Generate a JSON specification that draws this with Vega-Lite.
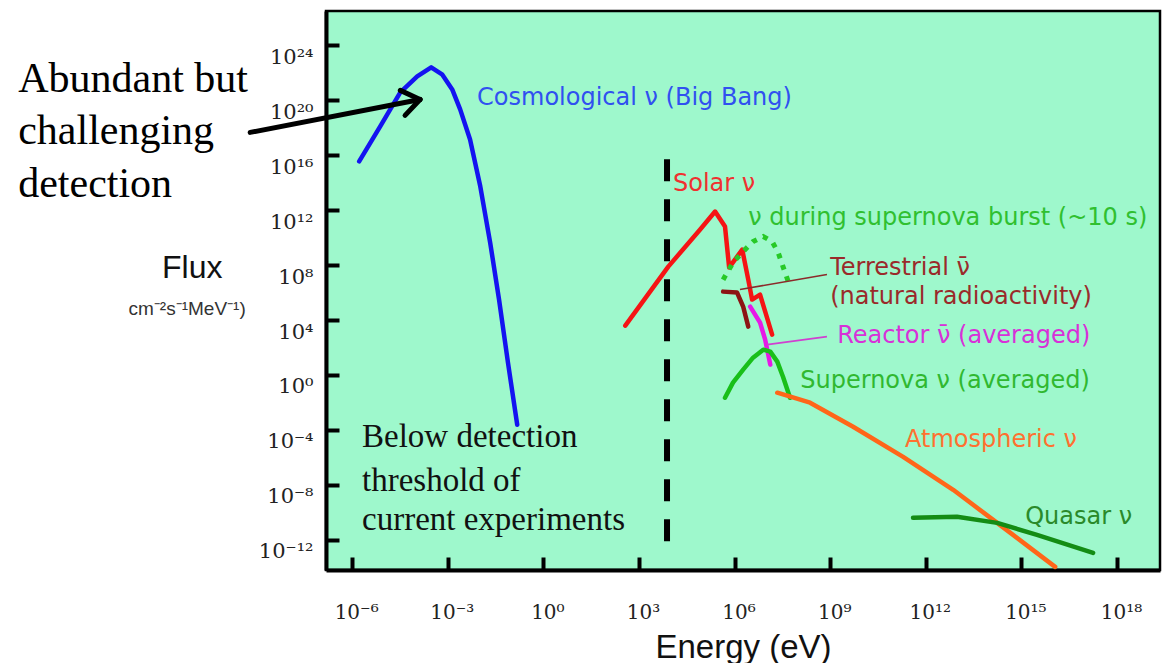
{
  "$schema": "https://vega.github.io/schema/vega-lite/v6.json",
  "width": 834,
  "height": 559,
  "autosize": "none",
  "padding": {"left": 326, "top": 11, "right": 5, "bottom": 93},
  "background": "white",
  "config": {
    "view": {"fill": "#9ef8cc", "stroke": "#000000", "strokeWidth": 2.5},
    "axis": {
      "grid": false,
      "domainColor": "#000000",
      "domainWidth": 4,
      "tickColor": "#000000",
      "tickWidth": 4,
      "tickSize": -13,
      "labelFont": "DejaVu Serif",
      "labelColor": "#222222"
    }
  },
  "datasets": {
    "spectra": [
      {"series": "Cosmological", "energy": 1.66e-6, "flux": 3.55e15},
      {"series": "Cosmological", "energy": 7.59e-6, "flux": 1.26e18},
      {"series": "Cosmological", "energy": 3.24e-5, "flux": 3.72e20},
      {"series": "Cosmological", "energy": 1.10e-4, "flux": 5.5e21},
      {"series": "Cosmological", "energy": 3.02e-4, "flux": 2.51e22},
      {"series": "Cosmological", "energy": 6.61e-4, "flux": 7.76e21},
      {"series": "Cosmological", "energy": 1.38e-3, "flux": 6.17e20},
      {"series": "Cosmological", "energy": 2.45e-3, "flux": 2.19e19},
      {"series": "Cosmological", "energy": 5.01e-3, "flux": 1.41e17},
      {"series": "Cosmological", "energy": 1.05e-2, "flux": 5.25e13},
      {"series": "Cosmological", "energy": 2.14e-2, "flux": 4.37e9},
      {"series": "Cosmological", "energy": 4.07e-2, "flux": 3.09e5},
      {"series": "Cosmological", "energy": 7.76e-2, "flux": 7.76},
      {"series": "Cosmological", "energy": 0.151, "flux": 2.4e-4},
      {"series": "Solar", "energy": 372, "flux": 3890},
      {"series": "Solar", "energy": 8320, "flux": 7.76e7},
      {"series": "Solar", "energy": 8.32e4, "flux": 3.89e10},
      {"series": "Solar", "energy": 2.45e5, "flux": 7.94e11},
      {"series": "Solar", "energy": 5.01e5, "flux": 6.46e10},
      {"series": "Solar", "energy": 6.76e5, "flux": 6.61e7},
      {"series": "Solar", "energy": 1.74e6, "flux": 1.35e9},
      {"series": "Solar", "energy": 2.69e6, "flux": 8.71e6},
      {"series": "Solar", "energy": 3.55e6, "flux": 3.09e5},
      {"series": "Solar", "energy": 6.31e6, "flux": 7.08e5},
      {"series": "Solar", "energy": 1.51e7, "flux": 871},
      {"series": "Terrestrial", "energy": 4.37e5, "flux": 1.17e6},
      {"series": "Terrestrial", "energy": 1.2e6, "flux": 1.0e6},
      {"series": "Terrestrial", "energy": 1.86e6, "flux": 9.55e4},
      {"series": "Terrestrial", "energy": 2.69e6, "flux": 3310},
      {"series": "Reactor", "energy": 3.09e6, "flux": 9.55e4},
      {"series": "Reactor", "energy": 6.31e6, "flux": 6460},
      {"series": "Reactor", "energy": 9.12e6, "flux": 372},
      {"series": "Reactor", "energy": 1.32e7, "flux": 5.62},
      {"series": "Supernova", "energy": 5.01e5, "flux": 0.0219},
      {"series": "Supernova", "energy": 8.91e5, "flux": 0.275},
      {"series": "Supernova", "energy": 1.86e6, "flux": 2.45},
      {"series": "Supernova", "energy": 3.80e6, "flux": 18.2},
      {"series": "Supernova", "energy": 7.94e6, "flux": 69.2},
      {"series": "Supernova", "energy": 1.32e7, "flux": 50.1},
      {"series": "Supernova", "energy": 2.19e7, "flux": 9.33},
      {"series": "Supernova", "energy": 3.31e7, "flux": 0.741},
      {"series": "Supernova", "energy": 5.5e7, "flux": 0.0219},
      {"series": "Atmospheric", "energy": 2.19e7, "flux": 0.0513},
      {"series": "Atmospheric", "energy": 2.34e8, "flux": 9.55e-3},
      {"series": "Atmospheric", "energy": 5.25e9, "flux": 1.70e-4},
      {"series": "Atmospheric", "energy": 1.95e11, "flux": 1.10e-6},
      {"series": "Atmospheric", "energy": 7.24e12, "flux": 4.37e-9},
      {"series": "Atmospheric", "energy": 1.74e14, "flux": 1.70e-11},
      {"series": "Atmospheric", "energy": 1.15e16, "flux": 1.07e-14},
      {"series": "Quasar", "energy": 3.98e11, "flux": 3.98e-11},
      {"series": "Quasar", "energy": 9.55e12, "flux": 4.68e-11},
      {"series": "Quasar", "energy": 1.74e14, "flux": 1.70e-11},
      {"series": "Quasar", "energy": 3.09e15, "flux": 2.29e-12},
      {"series": "Quasar", "energy": 1.78e17, "flux": 1.12e-13}
    ],
    "burst": [
      {"energy": 4.37e5, "flux": 8.71e6},
      {"energy": 8.91e5, "flux": 1.51e8},
      {"energy": 1.86e6, "flux": 9.77e8},
      {"energy": 3.80e6, "flux": 5.13e9},
      {"energy": 7.94e6, "flux": 1.2e10},
      {"energy": 1.51e7, "flux": 5.13e9},
      {"energy": 2.34e7, "flux": 8.13e8},
      {"energy": 3.31e7, "flux": 7.76e7},
      {"energy": 5.5e7, "flux": 2.69e6}
    ],
    "threshold": [
      {"energy": 7590, "flux": 5.01e15, "flux_end": 7.94e-14}
    ],
    "leaders": [
      {"part": "Terrestrial", "energy": 1.48e6, "flux": 1.66e6, "energy_end": 7.94e8, "flux_end": 2.04e7},
      {"part": "Reactor", "energy": 1.05e7, "flux": 162, "energy_end": 7.94e8, "flux_end": 617}
    ],
    "arrow": [
      {"part": "shaft", "energy": 6.31e-10, "flux": 4.57e17, "energy_end": 1.35e-4, "flux_end": 1.15e20},
      {"part": "head upper", "energy": 3.24e-5, "flux": 5.25e20, "energy_end": 1.35e-4, "flux_end": 1.15e20},
      {"part": "head lower", "energy": 4.57e-5, "flux": 7.94e18, "energy_end": 1.35e-4, "flux_end": 1.15e20}
    ],
    "labels": [
      {"text": "Cosmological ν (Big Bang)", "tag": "Cosmological", "energy": 8.32e-3, "flux": 1.58e20},
      {"text": "Solar ν", "tag": "Solar", "energy": 1.17e4, "flux": 7.41e13},
      {"text": "ν during supernova burst (~10 s)", "tag": "Burst", "energy": 2.69e6, "flux": 2.88e11},
      {"text": "Terrestrial ν̄", "tag": "Terrestrial", "energy": 1.0e9, "flux": 6.61e7},
      {"text": "(natural radioactivity)", "tag": "Terrestrial", "energy": 1.0e9, "flux": 5.13e5},
      {"text": "Reactor ν̄ (averaged)", "tag": "Reactor", "energy": 1.66e9, "flux": 724},
      {"text": "Supernova ν (averaged)", "tag": "Supernova", "energy": 1.15e8, "flux": 0.38},
      {"text": "Atmospheric ν", "tag": "Atmospheric", "energy": 2.24e11, "flux": 1.91e-5},
      {"text": "Quasar ν", "tag": "Quasar", "energy": 1.32e15, "flux": 4.68e-11}
    ],
    "abundant": [
      {"text": "Abundant but", "energy": 3.31e-17, "flux": 3.72e20},
      {"text": "challenging", "energy": 3.31e-17, "flux": 6.03e16},
      {"text": "detection", "energy": 3.31e-17, "flux": 9.77e12}
    ],
    "below": [
      {"text": "Below detection", "energy": 2.04e-6, "flux": 5.89e-6},
      {"text": "threshold of", "energy": 2.04e-6, "flux": 3.72e-9},
      {"text": "current experiments", "energy": 2.04e-6, "flux": 5.25e-12}
    ],
    "fluxTitle": [
      {"text": "Flux", "energy": 9.55e-12, "flux": 1.23e7}
    ],
    "fluxUnits": [
      {"text": "cm⁻²s⁻¹MeV⁻¹)", "energy": 6.61e-12, "flux": 2.45e4}
    ]
  },
  "resolve": {"scale": {"color": "independent"}},
  "encoding": {
    "x": {
      "field": "energy", "type": "quantitative",
      "scale": {"type": "log", "domain": [1.51e-7, 2.24e19], "nice": false},
      "axis": {
        "values": [1e-6, 1e-3, 1, 1e3, 1e6, 1e9, 1e12, 1e15, 1e18],
        "labelExpr": "'10' + (round(log(datum.value)/LN10) < 0 ? '⁻' : '') + (abs(round(log(datum.value)/LN10)) >= 10 ? ['⁰','¹','²','³','⁴','⁵','⁶','⁷','⁸','⁹'][floor(abs(round(log(datum.value)/LN10))/10)] : '') + ['⁰','¹','²','³','⁴','⁵','⁶','⁷','⁸','⁹'][abs(round(log(datum.value)/LN10)) % 10]",
        "labelFontSize": 20,
        "labelBaseline": "alphabetic",
        "labelPadding": 61,
        "labelOffset": 4,
        "labelFlush": false,
        "labelOverlap": false,
        "title": "Energy (eV)",
        "titleFont": "Liberation Sans",
        "titleFontSize": 33,
        "titleFontWeight": "normal",
        "titleColor": "#111111",
        "titleBaseline": "alphabetic",
        "titleY": 87
      }
    },
    "y": {
      "field": "flux", "type": "quantitative",
      "scale": {"type": "log", "domain": [6.31e-15, 3.16e26], "nice": false},
      "axis": {
        "values": [1e-12, 1e-8, 1e-4, 1, 1e4, 1e8, 1e12, 1e16, 1e20, 1e24],
        "labelExpr": "'10' + (round(log(datum.value)/LN10) < 0 ? '⁻' : '') + (abs(round(log(datum.value)/LN10)) >= 10 ? ['⁰','¹','²','³','⁴','⁵','⁶','⁷','⁸','⁹'][floor(abs(round(log(datum.value)/LN10))/10)] : '') + ['⁰','¹','²','³','⁴','⁵','⁶','⁷','⁸','⁹'][abs(round(log(datum.value)/LN10)) % 10]",
        "labelFontSize": 21,
        "labelBaseline": "alphabetic",
        "labelPadding": 26,
        "labelOffset": 18,
        "labelFlush": false,
        "labelOverlap": false,
        "title": null
      }
    }
  },
  "layer": [
    {
      "data": {"name": "spectra"},
      "mark": {"type": "line", "strokeWidth": 4.5, "strokeCap": "round", "strokeJoin": "round"},
      "encoding": {
        "color": {
          "field": "series", "type": "nominal", "legend": null,
          "scale": {
            "domain": ["Cosmological", "Solar", "Terrestrial", "Reactor", "Supernova", "Atmospheric", "Quasar"],
            "range": ["#1414f0", "#f51414", "#8c1414", "#e619e6", "#19bf19", "#ff6619", "#148c14"]
          }
        },
        "detail": {"field": "series"}
      }
    },
    {
      "data": {"name": "burst"},
      "mark": {"type": "line", "strokeWidth": 5, "strokeDash": [5, 7], "color": "#27c927"},
      "encoding": {}
    },
    {
      "data": {"name": "threshold"},
      "mark": {"type": "rule", "strokeWidth": 6, "strokeDash": [22, 18], "color": "#000000"},
      "encoding": {
        "y2": {"field": "flux_end"}
      }
    },
    {
      "data": {"name": "leaders"},
      "mark": {"type": "rule", "strokeWidth": 1.6},
      "encoding": {
        "x2": {"field": "energy_end"},
        "y2": {"field": "flux_end"},
        "color": {"field": "part", "type": "nominal", "legend": null, "scale": {"domain": ["Terrestrial", "Reactor"], "range": ["#8c2a2a", "#d040d0"]}}
      }
    },
    {
      "data": {"name": "arrow"},
      "mark": {"type": "rule", "strokeWidth": 5, "strokeCap": "round", "color": "#000000"},
      "encoding": {
        "x2": {"field": "energy_end"},
        "y2": {"field": "flux_end"}
      }
    },
    {
      "data": {"name": "labels"},
      "mark": {"type": "text", "font": "DejaVu Sans", "fontSize": 24, "align": "left", "baseline": "middle"},
      "encoding": {
        "text": {"field": "text"},
        "color": {
          "field": "tag", "type": "nominal", "legend": null,
          "scale": {
            "domain": ["Cosmological", "Solar", "Burst", "Terrestrial", "Reactor", "Supernova", "Atmospheric", "Quasar"],
            "range": ["#3050f0", "#f03030", "#30c030", "#9a2a2a", "#d830d8", "#30b830", "#ff7030", "#2a8a2a"]
          }
        }
      }
    },
    {
      "data": {"name": "abundant"},
      "mark": {"type": "text", "font": "Liberation Serif", "fontSize": 42, "align": "left", "baseline": "alphabetic", "color": "#000000"},
      "encoding": {"text": {"field": "text"}}
    },
    {
      "data": {"name": "below"},
      "mark": {"type": "text", "font": "Liberation Serif", "fontSize": 33, "align": "left", "baseline": "alphabetic", "color": "#111111"},
      "encoding": {"text": {"field": "text"}}
    },
    {
      "data": {"name": "fluxTitle"},
      "mark": {"type": "text", "font": "Liberation Sans", "fontSize": 32, "align": "center", "baseline": "alphabetic", "color": "#111111"},
      "encoding": {"text": {"field": "text"}}
    },
    {
      "data": {"name": "fluxUnits"},
      "mark": {"type": "text", "font": "Liberation Sans", "fontSize": 19, "align": "center", "baseline": "alphabetic", "color": "#333333"},
      "encoding": {"text": {"field": "text"}}
    }
  ]
}
